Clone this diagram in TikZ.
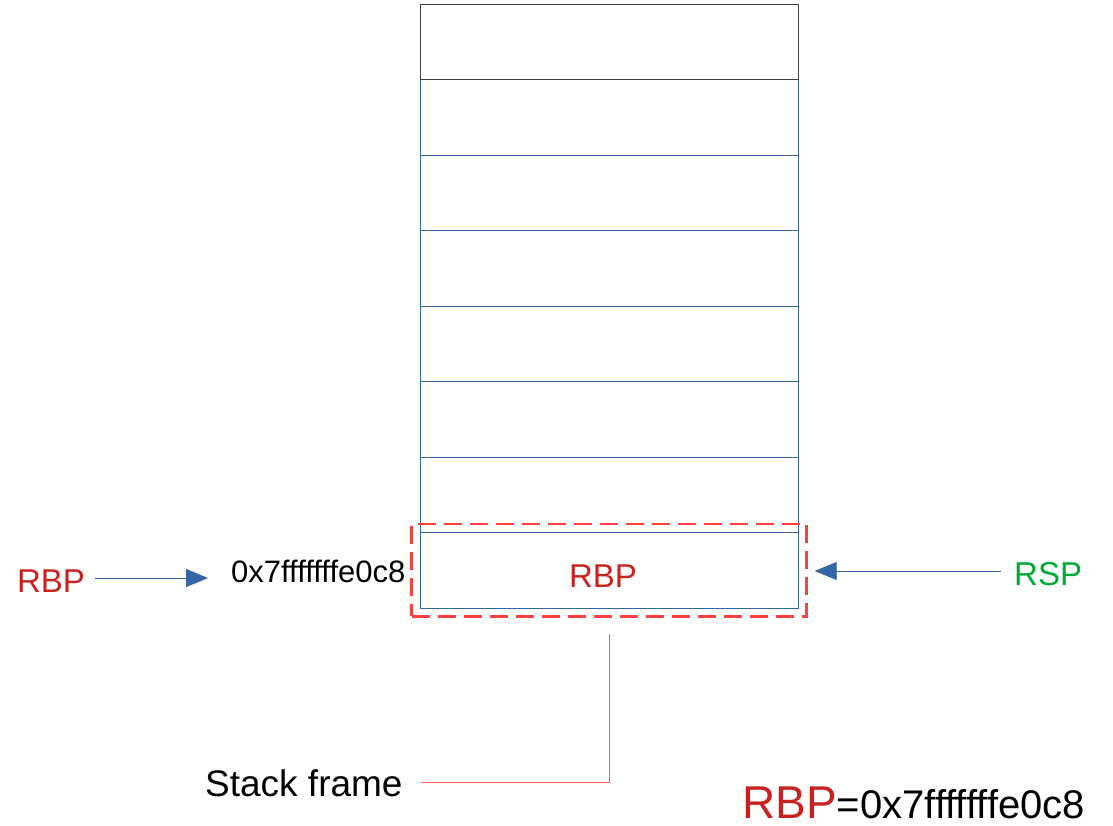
\documentclass[tikz,border=0pt]{standalone}
\usepackage{fontspec}
\setmainfont{Liberation Sans}
\usetikzlibrary{arrows.meta, fit, positioning, calc}
\definecolor{rbpred}{RGB}{201,33,30}
\definecolor{rspgreen}{RGB}{0,169,51}
\definecolor{stackblue}{RGB}{52,101,164}
\definecolor{framered}{RGB}{255,64,64}

\begin{document}
\begin{tikzpicture}[x=1pt, y=-1pt,
  cell/.style={rectangle, draw=stackblue, line width=0.9pt, minimum width=378pt, minimum height=75.5pt, inner sep=0pt},
  label/.style={inner sep=0pt, font=\fontsize{33}{38}\selectfont},
  addr/.style={inner sep=0pt, font=\fontsize{31}{35}\selectfont},
  frame/.style={draw=framered, line width=2.5pt, dash pattern=on 18pt off 8pt, inner xsep=8pt, inner ysep=8pt},
  ptr/.style={-{Triangle[length=22pt, width=18pt]}, draw=stackblue, line width=0.9pt},
  link/.style={draw=framered!85, line width=1pt}
]
\useasboundingbox (0,0) rectangle (1113,826);

% --- Stack ---
\foreach \i in {0,...,7} {
  \node[cell] (c\i) at (609, 4+75.5*\i+37.75) {};
}
\node[cell, draw=black!75] at (c0) {};
\node[label, anchor=base, text=rbpred] (rbpcell) at (603,587) {RBP};

% --- Stack frame box ---
\node[frame, fit=(c7)] (frame) {};

% --- Labels left and right ---
\node[label, anchor=base, text=rbpred] (rbpleft) at (51,592) {RBP};
\node[addr, anchor=base west] (address) at (231,582) {0x7fffffffe0c8};
\node[label, anchor=base west, text=rspgreen] (rsp) at (1014,585) {RSP};
\node[inner sep=0pt, anchor=base west, font=\fontsize{37}{42}\selectfont] (sf) at (205,796) {Stack frame};
\node[inner sep=0pt, anchor=base west] (result) at (742,818)
  {{\color{rbpred}\fontsize{46}{52}\selectfont RBP}{\fontsize{40}{44}\selectfont=0x7fffffffe0c8}};

% Verbindungen
\draw[ptr] ([xshift=10pt]rbpleft.east |- 0,578) -- ([xshift=-23pt]address.west |- 0,578);
\draw[ptr] ([xshift=-13pt]rsp.west |- 0,571) -- ([xshift=7pt]frame.east |- 0,571);
\draw[link] ([yshift=-16pt]frame.south) |- ([xshift=18pt]sf.east);
\end{tikzpicture}
\end{document}
